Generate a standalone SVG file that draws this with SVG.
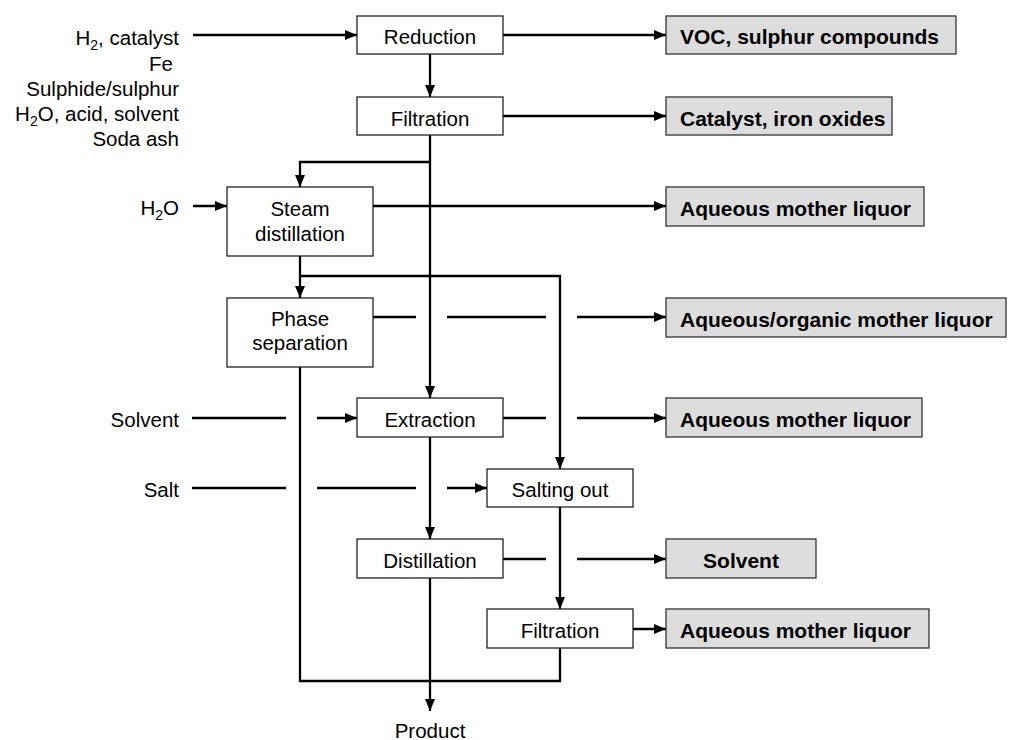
<svg xmlns="http://www.w3.org/2000/svg" width="1011" height="740" viewBox="0 0 1011 740">
<style>
  .bg { fill: #ffffff; }
  .proc { fill: #ffffff; stroke: #222222; stroke-width: 1.3; }
  .out { fill: #dddddd; stroke: #333333; stroke-width: 1.3; }
  .t { font-family: "Liberation Sans", Arial, sans-serif; font-size: 20.5px; fill: #000000; }
  .c { text-anchor: middle; }
  .e { text-anchor: end; }
  .b { font-family: "Liberation Sans", Arial, sans-serif; font-size: 21px; font-weight: bold; fill: #000000; }
  .ln { fill: none; stroke: #000000; stroke-width: 2.3; }
  .ar { marker-end: url(#ah); }
  .sub { font-size: 14px; }
</style>
<defs>
  <marker id="ah" markerUnits="userSpaceOnUse" markerWidth="12" markerHeight="11" refX="12" refY="5.5" orient="auto">
    <path d="M0,0.5 L12,5.5 L0,10.5 Z" fill="#000000"/>
  </marker>
</defs>
<rect class="bg" x="0" y="0" width="1011" height="740"/>

<g id="inputs">
  <text class="t e" x="179" y="44.5">H<tspan class="sub" dy="5">2</tspan><tspan dy="-5">, catalyst</tspan></text>
  <text class="t e" x="173" y="70.5">Fe</text>
  <text class="t e" x="179" y="96">Sulphide/sulphur</text>
  <text class="t e" x="179" y="121">H<tspan class="sub" dy="5">2</tspan><tspan dy="-5">O, acid, solvent</tspan></text>
  <text class="t e" x="179" y="146">Soda ash</text>
  <text class="t e" x="179" y="215">H<tspan class="sub" dy="5">2</tspan><tspan dy="-5">O</tspan></text>
  <text class="t e" x="179" y="427">Solvent</text>
  <text class="t e" x="179" y="497">Salt</text>
  <text class="t c" x="430" y="738">Product</text>
</g>

<g id="connectors">
  <path class="ln ar" d="M193,35 H357"/>
  <path class="ln ar" d="M503,35 H666"/>
  <path class="ln ar" d="M430,54 V97"/>
  <path class="ln ar" d="M503,116 H666"/>
  <path class="ln ar" d="M430,135 V398"/>
  <path class="ln ar" d="M430,162 H300 V187"/>
  <path class="ln ar" d="M193,206 H227"/>
  <path class="ln ar" d="M373,206 H666"/>
  <path class="ln ar" d="M300,256 V298"/>
  <path class="ln ar" d="M300,276 H560 V469"/>
  <path class="ln" d="M373,317 H416 M447,317 H546"/>
  <path class="ln ar" d="M577,317 H666"/>
  <path class="ln" d="M192,418 H286"/>
  <path class="ln ar" d="M317,418 H357"/>
  <path class="ln" d="M503,418 H546"/>
  <path class="ln ar" d="M577,418 H666"/>
  <path class="ln" d="M192,488 H286 M317,488 H416"/>
  <path class="ln ar" d="M447,488 H487"/>
  <path class="ln ar" d="M430,437 V539"/>
  <path class="ln" d="M503,559 H546"/>
  <path class="ln ar" d="M577,559 H666"/>
  <path class="ln ar" d="M560,507 V609"/>
  <path class="ln ar" d="M633,629 H666"/>
  <path class="ln" d="M300,367 V681 H560 V648"/>
  <path class="ln ar" d="M430,578 V711"/>
</g>

<g id="reduction">
  <rect class="proc" x="357" y="16" width="146" height="38"/>
  <text class="t c" x="430" y="44">Reduction</text>
</g>
<g id="filtration1">
  <rect class="proc" x="357" y="97" width="146" height="38"/>
  <text class="t c" x="430" y="125.5">Filtration</text>
</g>
<g id="steam-distillation">
  <rect class="proc" x="227" y="187" width="146" height="69"/>
  <text class="t c" x="300" y="216">Steam</text>
  <text class="t c" x="300" y="241">distillation</text>
</g>
<g id="phase-separation">
  <rect class="proc" x="227" y="298" width="146" height="69"/>
  <text class="t c" x="300" y="326">Phase</text>
  <text class="t c" x="300" y="350">separation</text>
</g>
<g id="extraction">
  <rect class="proc" x="357" y="398" width="146" height="39"/>
  <text class="t c" x="430" y="427">Extraction</text>
</g>
<g id="salting-out">
  <rect class="proc" x="487" y="469" width="146" height="38"/>
  <text class="t c" x="560" y="497">Salting out</text>
</g>
<g id="distillation">
  <rect class="proc" x="357" y="539" width="146" height="39"/>
  <text class="t c" x="430" y="568">Distillation</text>
</g>
<g id="filtration2">
  <rect class="proc" x="487" y="609" width="146" height="39"/>
  <text class="t c" x="560" y="638">Filtration</text>
</g>

<g id="out-voc">
  <rect class="out" x="666" y="16" width="290" height="38"/>
  <text class="b" x="680" y="44">VOC, sulphur compounds</text>
</g>
<g id="out-catalyst">
  <rect class="out" x="666" y="97" width="226" height="38"/>
  <text class="b" x="680" y="125.5">Catalyst, iron oxides</text>
</g>
<g id="out-aqueous1">
  <rect class="out" x="666" y="187" width="258" height="39"/>
  <text class="b" x="680" y="215.5">Aqueous mother liquor</text>
</g>
<g id="out-aqueous-organic">
  <rect class="out" x="666" y="298" width="340" height="39"/>
  <text class="b" x="680" y="326.5">Aqueous/organic mother liquor</text>
</g>
<g id="out-aqueous2">
  <rect class="out" x="666" y="398" width="256" height="39"/>
  <text class="b" x="680" y="427">Aqueous mother liquor</text>
</g>
<g id="out-solvent">
  <rect class="out" x="666" y="539" width="150" height="39"/>
  <text class="b c" x="741" y="568">Solvent</text>
</g>
<g id="out-aqueous3">
  <rect class="out" x="666" y="609" width="263" height="39"/>
  <text class="b" x="680" y="638">Aqueous mother liquor</text>
</g>
</svg>
